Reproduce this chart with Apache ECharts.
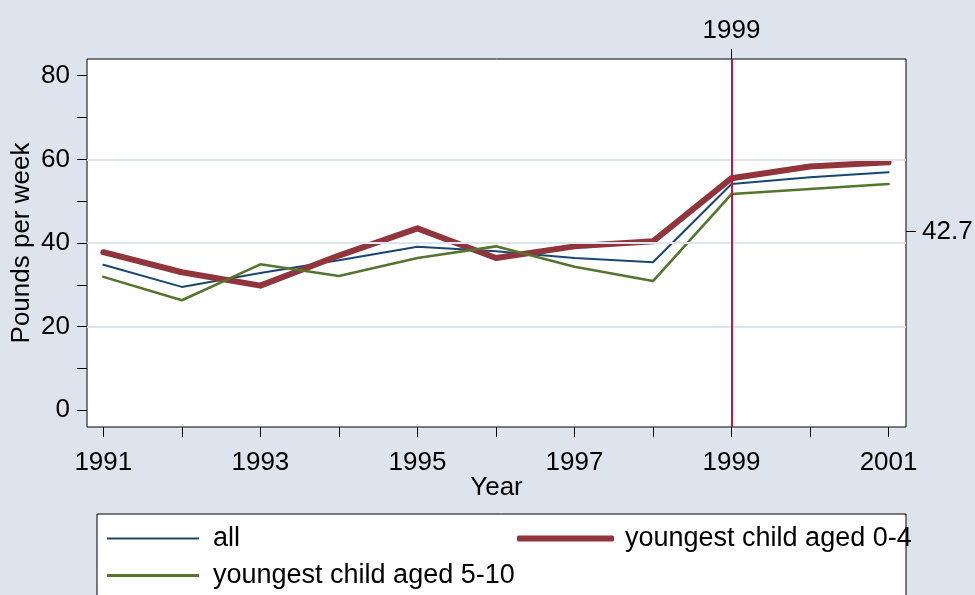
<!DOCTYPE html>
<html>
<head>
<meta charset="utf-8">
<script src="https://cdn.jsdelivr.net/npm/echarts@6/dist/echarts.min.js"></script>
<style>
html,body{margin:0;padding:0;background:#dee4ee;}
#chart{width:975px;height:595px;}
</style>
</head>
<body>
<div id="chart"></div>
<script>
// ---- data ----
const years = [1991, 1992, 1993, 1994, 1995, 1996, 1997, 1998, 1999, 2000, 2001];
const allSeries = [34.8, 29.5, 32.8, 35.9, 39.1, 38.0, 36.4, 35.4, 54.1, 55.7, 56.9];
const aged04 = [37.8, 33.0, 29.8, 37.0, 43.5, 36.4, 39.2, 40.4, 55.5, 58.3, 59.3];
const aged510 = [31.9, 26.3, 34.9, 32.1, 36.4, 39.2, 34.3, 30.9, 51.7, 52.9, 54.1];
const xTickLabels = [1991, 1993, 1995, 1997, 1999, 2001];
const yTicks = [0, 10, 20, 30, 40, 50, 60, 70, 80];
const yTickLabels = [0, 20, 40, 60, 80];
const gridValues = [20, 40, 60];
const refYear = [1999];
const meanValue = [42.7];
const seriesNames = ['all', 'youngest child aged 0-4', 'youngest child aged 5-10'];

const FONT = "'Liberation Sans', Arial, sans-serif";
const FS = 26;
const toPairs = (vals) => years.map((y, i) => [y, vals[i]]);
const fmt = (v) => String(v);

const chart = echarts.init(document.getElementById('chart'), null, {renderer: 'canvas'});
const xMin = 1990.792, xMax = 2001.222, yMin = -4, yMax = 84;
const tickStyle = {color: '#000', width: 1};
const lblStyle = {fontSize: FS, color: '#000', fontFamily: FONT};
const legStyle = {fontSize: 27, color: '#000', fontFamily: FONT};

const option = {
  backgroundColor: '#dee4ee',
  animation: false,
  textStyle: {fontFamily: FONT},
  grid: {
    left: 87, right: 69, top: 59, bottom: 168,
    show: true, backgroundColor: '#ffffff', borderColor: '#000000', borderWidth: 1,
    containLabel: false, outerBoundsMode: 'none'
  },
  xAxis: [
    {
      type: 'value', position: 'bottom', min: xMin, max: xMax,
      axisLine: {show: false, onZero: false},
      axisTick: {show: true, length: 10, inside: false, customValues: years, lineStyle: tickStyle},
      axisLabel: Object.assign({customValues: xTickLabels, formatter: fmt, margin: 23}, lblStyle),
      splitLine: {show: false},
      name: 'Year', nameLocation: 'middle', nameGap: 48, nameMoveOverlap: false,
      nameTextStyle: lblStyle
    },
    {
      type: 'value', position: 'top', min: xMin, max: xMax,
      axisLine: {show: false, onZero: false},
      axisTick: {show: true, length: 10, inside: false, customValues: refYear, lineStyle: tickStyle},
      axisLabel: Object.assign({customValues: refYear, formatter: fmt, margin: 15}, lblStyle),
      splitLine: {show: false}
    }
  ],
  yAxis: [
    {
      type: 'value', position: 'left', min: yMin, max: yMax,
      axisLine: {show: false, onZero: false},
      axisTick: {show: true, length: 10, inside: false, customValues: yTicks, lineStyle: tickStyle},
      axisLabel: Object.assign({customValues: yTickLabels, formatter: fmt, margin: 17}, lblStyle),
      splitLine: {show: false},
      name: 'Pounds per week', nameLocation: 'middle', nameGap: 52, nameRotate: 90, nameMoveOverlap: false,
      nameTextStyle: lblStyle
    },
    {
      type: 'value', position: 'right', min: yMin, max: yMax,
      axisLine: {show: false, onZero: false},
      axisTick: {show: true, length: 10, inside: false, customValues: meanValue, lineStyle: tickStyle},
      axisLabel: Object.assign({customValues: meanValue, formatter: fmt, margin: 16}, lblStyle),
      splitLine: {show: false}
    }
  ],
  legend: [
    {
      data: [{name: seriesNames[0], icon: 'rect'}], left: 107, top: 525, padding: 0,
      itemWidth: 92, itemHeight: 2, selectedMode: false,
      textStyle: Object.assign({padding: [0, 0, 0, 9]}, legStyle)
    },
    {
      data: [{name: seriesNames[1], icon: 'roundRect'}], left: 517, top: 525, padding: 0,
      itemWidth: 97, itemHeight: 6, selectedMode: false,
      textStyle: Object.assign({padding: [0, 0, 0, 6]}, legStyle)
    },
    {
      data: [{name: seriesNames[2], icon: 'rect'}], left: 107, top: 562, padding: 0,
      itemWidth: 92, itemHeight: 3, selectedMode: false,
      textStyle: Object.assign({padding: [0, 0, 0, 9]}, legStyle)
    }
  ],
  graphic: [
    {
      type: 'rect', z: 0, silent: true,
      shape: {x: 97, y: 514, width: 809, height: 100},
      style: {fill: '#ffffff', stroke: '#000000', lineWidth: 1}
    }
  ],
  series: [
    {
      name: '_ref', type: 'line', z: 1, data: years.map(y => [y, null]),
      showSymbol: false, symbol: 'none', silent: true,
      lineStyle: {width: 0},
      markLine: {
        silent: true, symbol: 'none', label: {show: false}, animation: false,
        data: gridValues.map(v => ({yAxis: v, lineStyle: {color: '#dfe5ef', width: 2, type: 'solid'}}))
          .concat(refYear.map(v => ({xAxis: v, lineStyle: {color: '#ce123e', width: 2, type: 'solid'}})))
      }
    },
    {
      name: seriesNames[0], type: 'line', z: 3, data: toPairs(allSeries),
      symbol: 'none', color: '#1a476f',
      lineStyle: {color: '#1a476f', width: 2, join: 'round', cap: 'round'}
    },
    {
      name: seriesNames[1], type: 'line', z: 3, data: toPairs(aged04),
      symbol: 'none', color: '#90353b',
      lineStyle: {color: '#90353b', width: 6, join: 'round', cap: 'round'}
    },
    {
      name: seriesNames[2], type: 'line', z: 3, data: toPairs(aged510),
      symbol: 'none', color: '#55752f',
      lineStyle: {color: '#55752f', width: 2.6, join: 'round', cap: 'round'}
    }
  ]
};
chart.setOption(option);
</script>
</body>
</html>
